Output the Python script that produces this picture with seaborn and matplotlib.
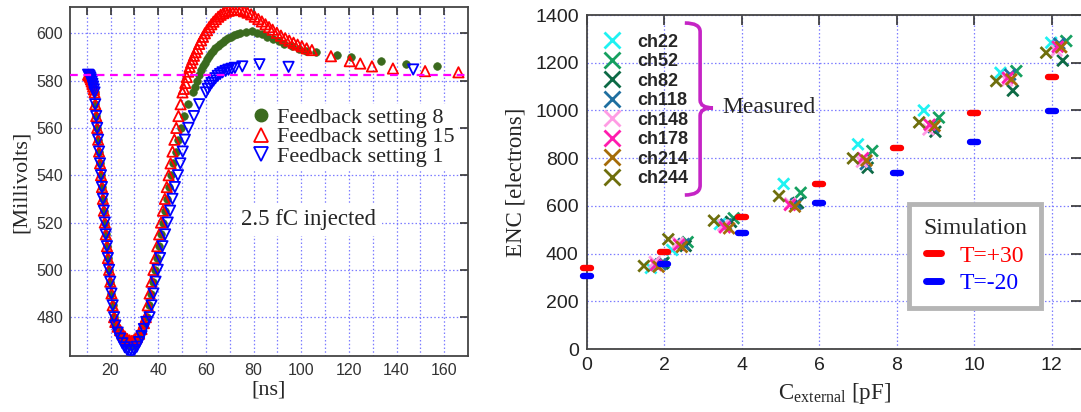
import numpy as np
import pandas as pd
import matplotlib
matplotlib.use("Agg")
import matplotlib.pyplot as plt
import seaborn as sns
from matplotlib.lines import Line2D
from matplotlib.path import Path
from matplotlib.patches import PathPatch

# ---------------- data: left panel (waveforms) ----------------
fall_t = [10.6, 10.9, 11.2, 11.5, 11.8, 12.1, 12.4, 12.7, 13.0, 13.3, 13.6, 14.0, 14.4, 14.8, 15.2,
          15.6, 16.0, 16.4, 16.8, 17.2, 17.6, 18.0, 18.5, 18.9, 19.4, 19.9, 20.4, 20.9, 21.5]
fall_v = [582.5, 582.3, 581.9, 581.3, 580.5, 579.6, 578.6, 577.5, 576.3, 575.0, 570, 565, 560, 555, 550,
          545, 540, 535, 530, 525, 520, 515, 510, 505, 500, 495, 490, 485, 480]
rise_v = [480, 485, 490, 495, 500, 505, 510, 515, 520, 525, 530, 535, 540, 545, 550, 555, 560, 565, 570, 575]

fb8_t = [22, 23, 24, 25, 26, 27, 28, 29, 30, 31, 32, 33, 34,
         35.3, 36.1, 36.9, 37.8, 38.6, 39.4, 40.3, 41.1, 42.0, 42.8, 43.7, 44.5, 45.4, 46.3, 47.3, 48.3,
         49.5, 51.0, 52.7, 54.7,
         55.5, 56.3, 57.1, 57.9, 58.7, 59.5, 60.4, 61.3, 62.2, 63.1, 64.0, 65.0, 66.0, 67.0, 68.0, 69.2,
         70.4, 71.7, 73.0, 74.5, 76.7, 79.2, 81.5, 83.5, 85.7, 88.0, 90.5, 93.0, 96.0, 99.0, 102.0, 106.4,
         115.0, 120.7, 133.3, 144.0, 157.0]
fb8_v = [477.0, 474.5, 472.5, 470.8, 469.5, 468.5, 468.0, 468.0, 468.5, 469.5, 471.0, 473.5, 476.5] + rise_v + \
        [577.5, 580.0, 582.3, 584.3, 586.0, 587.6, 589.0, 590.3, 591.5, 592.6, 593.6, 594.6, 595.5, 596.3,
         597.1, 597.8, 598.5, 599.1, 599.6, 600.0, 600.6, 600.8, 600.2, 599.5, 598.5, 597.6, 596.6, 595.6,
         594.5, 593.5, 592.7, 592.0, 591.0, 589.9, 588.2, 587.2, 586.2]

fb15_t = [22, 23, 24, 25, 26, 27, 28, 29, 30, 31, 32, 33, 34,
          34.8, 35.6, 36.4, 37.2, 38.0, 38.8, 39.6, 40.4, 41.2, 42.0, 42.8, 43.6, 44.4, 45.2, 46.0, 46.8,
          47.6, 48.5, 49.4, 50.2,
          50.8, 51.4, 52.0, 52.6, 53.2, 53.8, 54.4, 55.0, 55.7, 56.4, 57.2, 58.0, 58.8, 59.6, 60.5, 61.4,
          62.3, 63.2, 64.2, 65.2, 66.2, 67.3, 68.4, 69.6, 70.8, 72.0, 73.3, 74.6, 76.0, 77.5, 79.0, 80.5,
          82.0, 83.5, 85.0, 86.5, 88.0, 89.8, 91.5, 93.3, 95.0, 96.8, 98.5, 100.3, 102.3, 104.5, 112.5,
          120.4, 124.8, 129.7, 138.5, 152.0, 166.0]
fb15_v = [478.0, 476.0, 474.5, 473.0, 471.8, 470.8, 470.2, 470.0, 470.5, 471.5, 473.0, 475.0, 477.5] + rise_v + \
         [576.5, 579.0, 581.5, 583.8, 585.8, 587.5, 589.0, 590.5, 592.0, 593.5, 595.5, 597.0, 598.5, 600.0,
          601.3, 602.6, 603.8, 604.9, 606.0, 607.0, 607.8, 608.5, 609.1, 609.5, 609.8, 610.0, 610.0, 609.8,
          609.3, 608.7, 608.0, 607.0, 606.0, 605.0, 603.8, 602.6, 601.5, 600.2, 599.0, 597.9, 596.9, 596.0,
          595.2, 594.5, 593.6, 592.9, 590.3, 588.2, 587.2, 586.0, 585.1, 584.0, 583.5]

fb1_t = [22, 23, 24, 25, 26, 27, 28, 29, 30, 31, 32, 33, 34, 35,
         36.4, 37.2, 38.0, 38.9, 39.8, 40.8, 41.8, 42.9, 44.0, 45.0, 46.0, 47.0, 48.3, 49.3, 50.3, 51.2,
         52.7, 55.0, 57.2, 60.0,
         60.8, 61.6, 62.4, 63.2, 64.0, 65.0, 66.0, 67.0, 68.3, 69.5, 70.8, 72.2, 75.3, 82.5, 94.7, 147.0]
fb1_v = [476.5, 473.5, 471.0, 469.0, 467.3, 466.2, 465.6, 465.5, 466.2, 467.5, 469.5, 472.0, 475.0, 478.0] + rise_v + \
        [576.5, 577.8, 579.0, 580.0, 581.0, 582.0, 582.8, 583.5, 584.1, 584.6, 585.0, 585.4, 586.0, 586.9,
         585.8, 584.7]

baseline_mv = 582.5
series_labels = ["Feedback setting 8", "Feedback setting 15", "Feedback setting 1"]
x_ticks_L = [20, 40, 60, 80, 100, 120, 140, 160]
y_ticks_L = [480, 500, 520, 540, 560, 580, 600]

# ---------------- data: right panel (ENC) ----------------
channels = ["ch22", "ch52", "ch82", "ch118", "ch148", "ch178", "ch214", "ch244"]
ch_colors = ["#1ff2f2", "#15a060", "#0d6a45", "#1f6fa0", "#ff9ce4", "#ff1cae", "#a56c08", "#6e6e0c"]
c_ch22 = [1.65, 2.20, 3.43, 5.08, 7.00, 8.70, 10.68, 11.99]
e_ch22 = [340, 415, 524, 692, 858, 1000, 1158, 1284]
c_ch52 = [1.98, 2.60, 3.79, 5.52, 7.37, 9.09, 11.09, 12.38]
e_ch52 = [362, 448, 548, 655, 830, 970, 1165, 1291]
c_ch82 = [1.95, 2.55, 3.72, 5.45, 7.25, 9.00, 11.00, 12.29]
e_ch82 = [358, 432, 533, 612, 760, 911, 1083, 1209]
c_ch118 = [1.90, 2.50, 3.59, 5.40, 7.20, 8.95, 10.93, 12.20]
e_ch118 = [355, 440, 522, 608, 775, 930, 1150, 1280]
c_ch148 = [1.75, 2.35, 3.52, 5.25, 7.10, 8.82, 10.85, 12.13]
e_ch148 = [365, 445, 518, 610, 785, 920, 1125, 1250]
c_ch178 = [1.78, 2.38, 3.56, 5.24, 7.13, 8.85, 10.87, 12.16]
e_ch178 = [352, 437, 510, 604, 800, 940, 1137, 1267]
c_ch214 = [1.85, 2.45, 3.67, 5.37, 7.22, 8.98, 10.96, 12.25]
e_ch214 = [345, 428, 506, 597, 790, 935, 1130, 1265]
c_ch244 = [1.47, 2.10, 3.28, 4.96, 6.87, 8.58, 10.57, 11.86]
e_ch244 = [348, 460, 538, 641, 799, 950, 1123, 1242]

sim_c = [0, 2, 4, 6, 8, 10, 12]
sim_tp30 = [338, 405, 552, 690, 841, 990, 1141]
sim_tm20 = [306, 356, 487, 613, 739, 869, 998]
sim_labels = ["T=+30", "T=-20"]
x_ticks_R = [0, 2, 4, 6, 8, 10, 12]
y_ticks_R = [0, 200, 400, 600, 800, 1000, 1200, 1400]

# ---------------- style ----------------
sns.set_style("white")
plt.rcParams["font.family"] = ["Liberation Sans", "DejaVu Sans"]
plt.rcParams["mathtext.fontset"] = "custom"
plt.rcParams["mathtext.rm"] = "Liberation Serif"
plt.rcParams["mathtext.it"] = "Liberation Serif:italic"
SERIF = "Liberation Serif"
GRID = "#7c7cff"

fig = plt.figure(figsize=(10.81, 4.12), dpi=100)
axL = fig.add_axes([70 / 1081, 56 / 412, 398 / 1081, 349 / 412])
axR = fig.add_axes([587 / 1081, 63 / 412, 494 / 1081, 334 / 412])

# ---------------- left panel ----------------
g_col, r_col, b_col = "#3b6a1e", "#ff0000", "#0000ff"
sns.scatterplot(x=fall_t + fb8_t, y=fall_v + fb8_v, ax=axL, marker="o", s=30, color=g_col,
                edgecolor=g_col, linewidth=0.5, zorder=3, legend=False)
sns.scatterplot(x=fall_t + fb15_t, y=fall_v + fb15_v, ax=axL, marker="^", s=55, color=r_col,
                facecolor="none", edgecolor=r_col, linewidth=1.3, zorder=4, legend=False)
sns.scatterplot(x=fall_t + fb1_t, y=fall_v + fb1_v, ax=axL, marker="v", s=55, color=b_col,
                facecolor="none", edgecolor=b_col, linewidth=1.3, zorder=5, legend=False)
axL.axhline(baseline_mv, color="#ff00ff", lw=1.6, ls=(0, (3.5, 2.5)), zorder=6)

axL.set_xlim(3, 170)
axL.set_ylim(463.6, 611.1)
axL.set_xticks(x_ticks_L)
axL.set_xticks([10, 30, 50, 70, 90, 110, 130, 150], minor=True)
axL.set_yticks(y_ticks_L)
axL.grid(True, which="both", axis="x", color=GRID, ls=(0, (1.2, 1.8)), lw=0.9)
axL.grid(True, which="major", axis="y", color=GRID, ls=(0, (1.2, 1.8)), lw=0.9)
axL.set_axisbelow(True)
axL.tick_params(which="both", direction="in", top=True, right=True, length=6, width=1.2,
                color="#333333", labelsize=11.5, labelcolor="#333333", pad=5)
for sp in axL.spines.values():
    sp.set_color("#444444")
    sp.set_linewidth(1.3)
axL.set_xlabel("[ns]", family=SERIF, fontsize=16, labelpad=2)
axL.set_ylabel("[Millivolts]", family=SERIF, fontsize=16, labelpad=4)

hL = [Line2D([], [], ls="none", marker="o", ms=9, mfc=g_col, mec=g_col),
      Line2D([], [], ls="none", marker="^", ms=10, mfc="none", mec=r_col, mew=1.3),
      Line2D([], [], ls="none", marker="v", ms=10, mfc="none", mec=b_col, mew=1.3)]
legL = axL.legend(hL, series_labels, loc="upper left", bbox_to_anchor=(0.4525, 0.721),
                  prop={"family": SERIF, "size": 16}, handlelength=0.7, handletextpad=0.35,
                  labelspacing=-0.06, borderpad=0.15, borderaxespad=0, frameon=True, fancybox=False)
legL.get_frame().set_edgecolor("none")
legL.get_frame().set_facecolor("white")
legL.get_frame().set_alpha(1)
legL.set_zorder(10)

axL.text(0.6, 0.39, "2.5 fC injected", transform=axL.transAxes, ha="center", va="center",
         family=SERIF, fontsize=16.5, zorder=10,
         bbox=dict(boxstyle="square,pad=0.25", fc="white", ec="none"))

# ---------------- right panel ----------------
ch_c = [c_ch22, c_ch52, c_ch82, c_ch118, c_ch148, c_ch178, c_ch214, c_ch244]
ch_e = [e_ch22, e_ch52, e_ch82, e_ch118, e_ch148, e_ch178, e_ch214, e_ch244]
df = pd.DataFrame({
    "channel": np.repeat(channels, [len(c) for c in ch_c]),
    "C": np.concatenate(ch_c),
    "ENC": np.concatenate(ch_e),
})
palette = dict(zip(channels, ch_colors))
sns.scatterplot(data=df, x="C", y="ENC", hue="channel", palette=palette, marker="x", s=65,
                linewidth=2.0, ax=axR, legend=False, zorder=4)
sns.scatterplot(x=sim_c, y=sim_tp30, ax=axR, marker="_", s=30, color="#ff0000", linewidth=4.6,
                capstyle="round", clip_on=False, zorder=5, legend=False)
sns.scatterplot(x=sim_c, y=sim_tm20, ax=axR, marker="_", s=30, color="#0000ff", linewidth=4.6,
                capstyle="round", clip_on=False, zorder=5, legend=False)

axR.set_xlim(0, 12.76)
axR.set_ylim(0, 1400)
axR.set_xticks(x_ticks_R)
axR.set_yticks(y_ticks_R)
axR.grid(True, color=GRID, ls=(0, (1.2, 1.8)), lw=0.9)
axR.set_axisbelow(True)
axR.tick_params(direction="in", top=True, right=True, length=7, width=1.2, color="#333333",
                labelsize=14, labelcolor="#222222", pad=6)
for name, sp in axR.spines.items():
    sp.set_color("#444444")
    sp.set_linewidth(1.3)
axR.spines["right"].set_visible(False)
axR.set_xlabel(r"C$_{\mathrm{external}}$ [pF]", family=SERIF, fontsize=16.5, labelpad=5)
axR.set_ylabel("ENC [electrons]", family=SERIF, fontsize=16.5, labelpad=6)

hCh = [Line2D([], [], ls="none", marker="x", ms=11, mew=2.0, color=c) for c in ch_colors]
legCh = axR.legend(hCh, channels, loc="upper left", bbox_to_anchor=(0.028, 0.95),
                   prop={"family": "Liberation Sans", "weight": "bold", "size": 13},
                   handlelength=1.0, handletextpad=0.9, labelspacing=0.14, borderpad=0.1,
                   borderaxespad=0, frameon=False)
axR.add_artist(legCh)

hSim = [Line2D([], [], color="#ff0000", lw=5, solid_capstyle="round"),
        Line2D([], [], color="#0000ff", lw=5, solid_capstyle="round")]
legS = axR.legend(hSim, sim_labels, loc="upper left", bbox_to_anchor=(0.652, 0.434),
                  title="Simulation", title_fontproperties={"family": SERIF, "size": 17},
                  prop={"family": SERIF, "size": 17}, handlelength=0.6, handletextpad=0.8,
                  labelspacing=0.25, borderpad=0.6, borderaxespad=0, frameon=True, fancybox=False)
fr = legS.get_frame()
fr.set_edgecolor("#b5b5b5")
fr.set_linewidth(3.5)
fr.set_facecolor("white")
fr.set_alpha(1)
for txt, col in zip(legS.get_texts(), ["#ff0000", "#0000ff"]):
    txt.set_color(col)
legS.set_zorder(10)

# curly brace marking the measured channels
verts = [(0.198, 0.976), (0.229, 0.976), (0.229, 0.95),
         (0.229, 0.745),
         (0.229, 0.722), (0.255, 0.722),
         (0.229, 0.722), (0.229, 0.699),
         (0.229, 0.49),
         (0.229, 0.461), (0.198, 0.461)]
codes = [Path.MOVETO, Path.CURVE3, Path.CURVE3, Path.LINETO, Path.CURVE3, Path.CURVE3,
         Path.CURVE3, Path.CURVE3, Path.LINETO, Path.CURVE3, Path.CURVE3]
axR.add_patch(PathPatch(Path(verts, codes), transform=axR.transAxes, fc="none",
                        ec="#c524c5", lw=2.6, clip_on=False, zorder=8))
axR.text(0.275, 0.722, "Measured", transform=axR.transAxes, ha="left", va="center",
         family=SERIF, fontsize=17, zorder=8)

fig.savefig("out.png", dpi=100, facecolor="white")
